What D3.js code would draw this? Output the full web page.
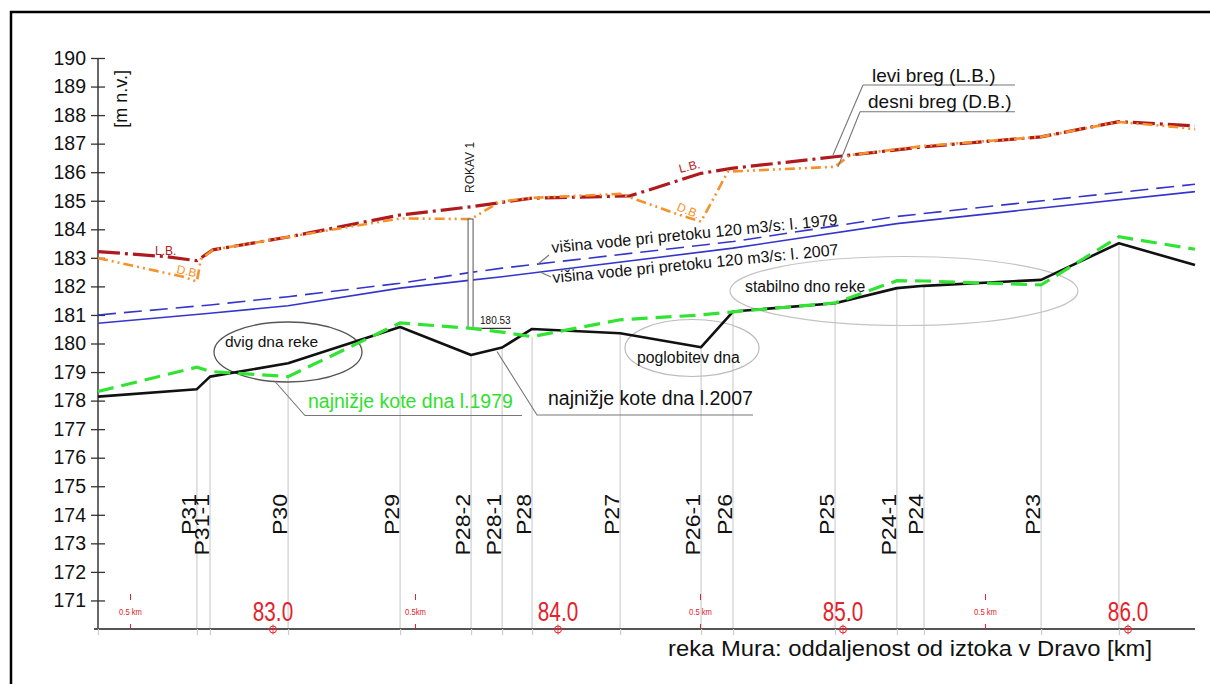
<!DOCTYPE html>
<html>
<head>
<meta charset="utf-8">
<script src="https://cdn.jsdelivr.net/npm/d3@7"></script>
<style>
  html, body { margin: 0; padding: 0; background: #fff; }
  svg { display: block; font-family: "Liberation Sans", Arial, sans-serif; }
</style>
</head>
<body>
<svg id="chart" width="1210" height="684"></svg>
<script>
// River Mura longitudinal profile, km 82.4 – 86.2

const kmStart = 82.386, kmEnd = 86.235;

// cross-section profiles
const profileNames = ["P31", "P31-1", "P30", "P29", "P28-2", "P28-1", "P28", "P27", "P26-1", "P26", "P25", "P24-1", "P24", "P23", ""];
const profileKm = [82.733, 82.779, 83.053, 83.446, 83.695, 83.804, 83.909, 84.218, 84.502, 84.614, 84.972, 85.189, 85.284, 85.695, 85.968];

// lowest bed elevations at start, each profile, end
const bedKm = [kmStart, ...profileKm, kmEnd];
const bed2007 = [178.14, 178.40, 178.84, 179.31, 180.58, 179.60, 179.86, 180.51, 180.36, 179.87, 181.12, 181.41, 181.94, 182.02, 182.23, 183.51, 182.75];
const bed1979 = [178.32, 179.17, 179.02, 178.84, 180.72, 180.53, 180.40, 180.24, 180.83, 181.00, 181.11, 181.42, 182.20, 182.19, 182.05, 183.74, 183.30];

// water level at 120 m3/s
const waterKm = [kmStart, 82.779, 83.053, 83.446, 83.695, 83.804, 84.614, 85.189, kmEnd];
const water2007 = [180.71, 181.06, 181.32, 181.94, 182.22, 182.34, 183.34, 184.20, 185.32];
const water1979 = [181.00, 181.35, 181.64, 182.11, 182.49, 182.64, 183.57, 184.45, 185.58];

// left bank (L.B.)
const leftBankKm = [82.386, 82.628, 82.733, 82.789, 83.053, 83.446, 83.695, 83.909, 84.253, 84.502, 84.614, 84.972, 85.284, 85.695, 85.968, 86.235];
const leftBank = [183.22, 183.04, 182.90, 183.28, 183.73, 184.50, 184.79, 185.09, 185.17, 185.96, 186.14, 186.54, 186.89, 187.24, 187.77, 187.62];

// right bank (D.B.)
const rightBankKm = [82.386, 82.684, 82.733, 82.747, 82.789, 83.053, 83.446, 83.695, 83.796, 83.909, 84.218, 84.428, 84.502, 84.596, 84.972, 85.025, 85.284, 85.695, 85.968, 86.182, 86.235];
const rightBank = [182.99, 182.34, 182.17, 182.95, 183.28, 183.73, 184.38, 184.36, 184.97, 185.10, 185.24, 184.50, 184.27, 186.02, 186.19, 186.60, 186.92, 187.24, 187.76, 187.57, 187.50];

// axis ticks
const yTicks = d3.range(171, 191);
const kmLabels = [83, 84, 85, 86];
const halfKmMarks = [82.5, 83.5, 84.5, 85.5];
const halfKmText = ["0.5 km", "0.5km", "0.5 km", "0.5 km"];

// ROKAV 1 bottom elevation
const rokavKm = 83.695, rokavBottom = 180.53, rokavTop = 184.36;

const svg = d3.select("#chart");
const x = d3.scaleLinear().domain([kmStart, kmEnd]).range([98, 1195]);
const y = d3.scaleLinear().domain([170, 190]).range([629, 58]);

const RED = "#e3222c", GRAY = "#777";

// frame
svg.append("path").attr("d", "M11,684V12H1210").attr("fill", "none")
  .attr("stroke", "#000").attr("stroke-width", 2.5);

// profile guide lines
const profIdx = profileKm.map((k, i) => i);
svg.append("g").selectAll("line").data(profIdx).join("line")
  .attr("x1", i => x(profileKm[i])).attr("x2", i => x(profileKm[i]))
  .attr("y1", y(170)).attr("y2", i => y(Math.min(bed2007[i + 1], bed1979[i + 1])))
  .attr("stroke", "#cfcfcf").attr("stroke-width", 1.2);

// y axis
const yAxis = svg.append("g").attr("transform", `translate(${x(kmStart)},0)`)
  .call(d3.axisLeft(y).tickValues(yTicks).tickSize(7).tickSizeOuter(0).tickPadding(5));
yAxis.select(".domain").attr("stroke", "#444").attr("stroke-width", 1.6)
  .attr("d", `M0,${y(190)}V${y(170)}`);
yAxis.selectAll(".tick line").attr("x1", 7).attr("stroke", "#333").attr("stroke-width", 1.3);
yAxis.selectAll(".tick text").attr("font-size", 19.5).attr("fill", "#111")
  .attr("font-family", "Liberation Sans, Arial, sans-serif");

svg.append("text").attr("transform", `translate(127,70) rotate(-90)`)
  .attr("text-anchor", "end").attr("font-size", 18).attr("fill", "#111").text("[m n.v.]");

// x axis with profile ticks
const xAxis = svg.append("g").attr("transform", `translate(0,${y(170)})`)
  .call(d3.axisBottom(x).tickValues([kmStart, ...profileKm]).tickSize(6).tickSizeOuter(0).tickFormat(""));
xAxis.select(".domain").attr("stroke", "#555").attr("stroke-width", 2)
  .attr("d", `M${x(kmStart) - 4},0H${x(kmEnd)}`);
xAxis.selectAll(".tick line").attr("stroke", "#ccc").attr("stroke-width", 1.2);

// profile names
svg.append("g").selectAll("text").data(profIdx.filter(i => profileNames[i])).join("text")
  .attr("transform", i => `translate(${x(profileKm[i]) - 1},494) rotate(-90) scale(1.1,1)`)
  .attr("text-anchor", "end").attr("font-size", 21).attr("fill", "#111")
  .text(i => profileNames[i]);

// km labels with station markers
const kmG = svg.append("g");
kmLabels.forEach(k => {
  kmG.append("text").attr("transform", `translate(${x(k)},621) scale(0.74,1)`)
    .attr("text-anchor", "middle").attr("font-size", 28).attr("fill", RED)
    .text(k.toFixed(1));
  kmG.append("circle").attr("cx", x(k)).attr("cy", y(170) + 0.5).attr("r", 3.5)
    .attr("fill", "none").attr("stroke", RED).attr("stroke-width", 1);
  kmG.append("path").attr("d", `M${x(k) - 5},${y(170) + 0.5}H${x(k) + 5}M${x(k)},${y(170) - 4.5}V${y(170) + 5.5}`)
    .attr("stroke", RED).attr("stroke-width", 0.8);
});
halfKmMarks.forEach((k, i) => {
  kmG.append("text").attr("transform", `translate(${x(k)},615) scale(0.85,1)`)
    .attr("text-anchor", "middle").attr("font-size", 9).attr("fill", RED).text(halfKmText[i]);
  kmG.append("path").attr("d", `M${x(k)},594V600M${x(k)},624V629`)
    .attr("stroke", RED).attr("stroke-width", 1);
});

svg.append("text").attr("x", 668).attr("y", 656).attr("font-size", 22)
  .attr("textLength", 484).attr("lengthAdjust", "spacingAndGlyphs").attr("fill", "#111")
  .text("reka Mura: oddaljenost od iztoka v Dravo [km]");

// line generator
const line = (ks, vs) => d3.line().x(i => x(ks[i])).y(i => y(vs[i]))(ks.map((k, i) => i));

// annotation ellipses (behind lines)
const ann = svg.append("g").attr("fill", "none");
ann.append("ellipse").attr("cx", 288).attr("cy", 352).attr("rx", 74).attr("ry", 30)
  .attr("stroke", "#555").attr("stroke-width", 1.3);
ann.append("ellipse").attr("cx", 692).attr("cy", 348).attr("rx", 67).attr("ry", 28.5)
  .attr("stroke", "#bbb").attr("stroke-width", 1.2);
ann.append("ellipse").attr("cx", 904).attr("cy", 291).attr("rx", 174).attr("ry", 34.5)
  .attr("stroke", "#c4c4c4").attr("stroke-width", 1.2);

// water levels
svg.append("path").attr("d", line(waterKm, water2007)).attr("fill", "none")
  .attr("stroke", "#3535cc").attr("stroke-width", 1.6);
svg.append("path").attr("d", line(waterKm, water1979)).attr("fill", "none")
  .attr("stroke", "#3535cc").attr("stroke-width", 1.6).attr("stroke-dasharray", "18,8");

// banks
svg.append("path").attr("d", line(leftBankKm, leftBank)).attr("fill", "none")
  .attr("stroke", "#b01a1e").attr("stroke-width", 3.2).attr("stroke-dasharray", "22,5,3,5");
svg.append("path").attr("d", line(rightBankKm, rightBank)).attr("fill", "none")
  .attr("stroke", "#f5922c").attr("stroke-width", 2.6).attr("stroke-dasharray", "10,4,2,4,2,4");

// ROKAV 1 marker
const rx = x(rokavKm);
svg.append("rect").attr("x", rx - 3).attr("y", y(rokavTop)).attr("width", 5)
  .attr("height", y(rokavBottom) - y(rokavTop)).attr("fill", "#fff")
  .attr("stroke", "#555").attr("stroke-width", 1);
svg.append("path").attr("d", `M${rx - 1},${y(rokavBottom)}H${rx + 40}`)
  .attr("stroke", "#333").attr("stroke-width", 1.2);
svg.append("text").attr("x", rx + 9).attr("y", y(rokavBottom) - 4).attr("font-size", 10)
  .attr("fill", "#111").text(rokavBottom.toFixed(2));
svg.append("text").attr("transform", `translate(${rx + 3},193) rotate(-90)`)
  .attr("font-size", 12).attr("fill", "#222").text("ROKAV 1");

// bed lines
svg.append("path").attr("d", line(bedKm, bed2007)).attr("fill", "none")
  .attr("stroke", "#111").attr("stroke-width", 2.6).attr("stroke-linejoin", "round");
svg.append("path").attr("d", line(bedKm, bed1979)).attr("fill", "none")
  .attr("stroke", "#33e333").attr("stroke-width", 3.2).attr("stroke-dasharray", "16,8");

// bank tags
const tag = (t, px, py, rot, col) => svg.append("text")
  .attr("transform", `translate(${px},${py}) rotate(${rot})`)
  .attr("font-size", 12).attr("fill", col).text(t);
tag("L.B.", 155, 255, 0, "#b01a1e");
tag("D.B.", 176, 273, 12, "#f5922c");
tag("L.B.", 680, 173, -14, "#b01a1e");
tag("D.B.", 676, 210, 22, "#f5922c");

// leaders and labels
const lead = svg.append("g").attr("fill", "none").attr("stroke", GRAY).attr("stroke-width", 1.1);
lead.append("path").attr("d", "M863,85L833,155M863,85H1015");
lead.append("path").attr("d", "M860,111.7L838,166.7M860,111.7H1015");
lead.append("path").attr("d", "M549,255L538,264");
lead.append("path").attr("d", "M551,277L540,272");
lead.append("path").attr("d", "M275,381.5L305,415.5H522");
lead.append("path").attr("d", "M497,351.5L537,415H753");

svg.append("text").attr("x", 872).attr("y", 81.5).attr("font-size", 19).attr("fill", "#111").text("levi breg (L.B.)");
svg.append("text").attr("x", 868).attr("y", 108).attr("font-size", 19).attr("fill", "#111").text("desni breg (D.B.)");

svg.append("text").attr("transform", "translate(552,253) rotate(-5.6)").attr("font-size", 16)
  .attr("fill", "#111").text("višina vode pri pretoku 120 m3/s: l. 1979");
svg.append("text").attr("transform", "translate(553,283) rotate(-5.6)").attr("font-size", 16)
  .attr("fill", "#111").text("višina vode pri pretoku 120 m3/s: l. 2007");

svg.append("text").attr("x", 225).attr("y", 347).attr("font-size", 15.5).attr("fill", "#111").text("dvig dna reke");
svg.append("text").attr("x", 637).attr("y", 363).attr("font-size", 15.8).attr("fill", "#111").text("poglobitev dna");
svg.append("text").attr("x", 745).attr("y", 291.5).attr("font-size", 15.8).attr("fill", "#111").text("stabilno dno reke");

svg.append("text").attr("x", 308).attr("y", 408).attr("font-size", 19.5).attr("fill", "#2ee02e").text("najnižje kote dna l.1979");
svg.append("text").attr("x", 548).attr("y", 405).attr("font-size", 19.5).attr("fill", "#111").text("najnižje kote dna l.2007");
</script>
</body>
</html>
